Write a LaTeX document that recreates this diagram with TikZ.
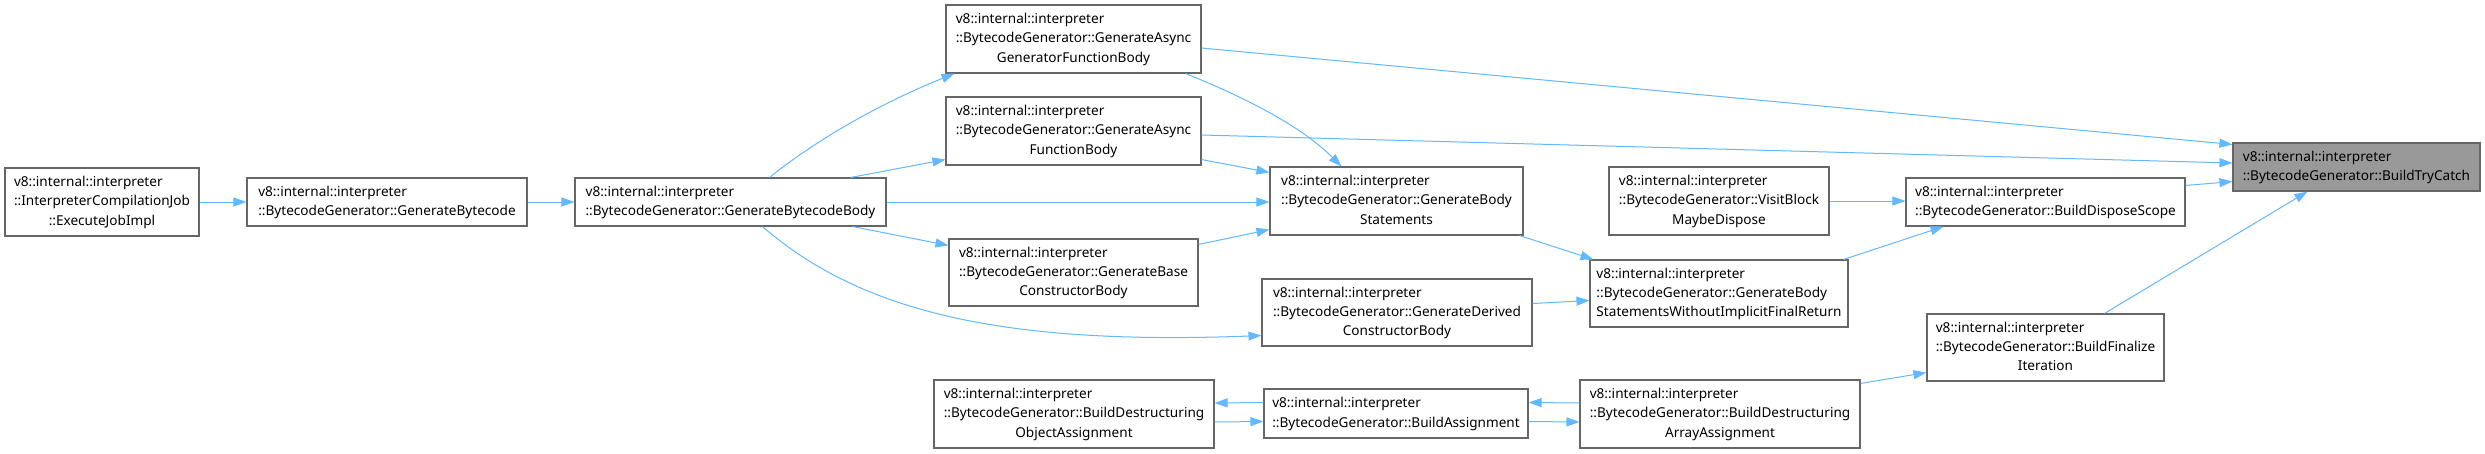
\documentclass[tikz,border=0pt]{standalone}
\usepackage{fontspec}
\setmainfont{Noto Sans}
\usetikzlibrary{arrows.meta,calc}
\definecolor{edgeblue}{HTML}{63B8FF}
\definecolor{boxgray}{HTML}{666666}
\definecolor{hlgray}{HTML}{999999}
\newcommand\ns{v8::internal::interpreter}
\newcommand\two[2]{\begin{tabular}{@{}l@{}}#1\\#2\end{tabular}}
\newcommand\three[3]{\begin{tabular}{@{}l@{}}#1\\#2\\\multicolumn{1}{@{}c@{}}{#3}\end{tabular}}
\begin{document}
\begin{tikzpicture}[x=1pt,y=-1pt,
  box/.style={draw=boxgray, fill=white, line width=1.1pt, inner sep=0pt,
    font=\fontsize{13.6pt}{19.3pt}\selectfont},
  hl/.style={box, fill=hlgray},
  edge/.style={draw=edgeblue, line width=1pt, -{Triangle[length=13pt,width=9pt]}}]
\fill[white] (0,0) rectangle (2485,453);
\useasboundingbox (0,0) rectangle (2485,453);

\node[box, minimum width=194pt, minimum height=68pt] (EJ) at (102,202)
  {\three{\ns}{::InterpreterCompilationJob}{::ExecuteJobImpl}};
\node[box, minimum width=280pt, minimum height=48pt] (GB) at (387,202)
  {\two{\ns}{::BytecodeGenerator::GenerateBytecode}};
\node[box, minimum width=311pt, minimum height=48pt] (GBB) at (730.5,202)
  {\two{\ns}{::BytecodeGenerator::GenerateBytecodeBody}};
\node[box, minimum width=255pt, minimum height=68pt] (AG) at (1073.5,39)
  {\three{\ns}{::BytecodeGenerator::GenerateAsync}{GeneratorFunctionBody}};
\node[box, minimum width=255pt, minimum height=68pt] (AF) at (1073.5,131)
  {\three{\ns}{::BytecodeGenerator::GenerateAsync}{FunctionBody}};
\node[box, minimum width=249pt, minimum height=67pt] (GBase) at (1073.5,272.5)
  {\three{\ns}{::BytecodeGenerator::GenerateBase}{ConstructorBody}};
\node[box, minimum width=253pt, minimum height=68pt] (GBS) at (1396.5,201)
  {\three{\ns}{::BytecodeGenerator::GenerateBody}{Statements}};
\node[box, minimum width=270pt, minimum height=67pt] (Der) at (1397,312.5)
  {\three{\ns}{::BytecodeGenerator::GenerateDerived}{ConstructorBody}};
\node[box, minimum width=220pt, minimum height=68pt] (VB) at (1719,201)
  {\three{\ns}{::BytecodeGenerator::VisitBlock}{MaybeDispose}};
\node[box, minimum width=258pt, minimum height=67pt] (GBSW) at (1719,293.5)
  {\three{\ns}{::BytecodeGenerator::GenerateBody}{StatementsWithoutImplicitFinalReturn}};
\node[box, minimum width=279pt, minimum height=48pt] (BDS) at (2045.5,202)
  {\two{\ns}{::BytecodeGenerator::BuildDisposeScope}};
\node[hl, minimum width=247pt, minimum height=48pt] (BTC) at (2356.5,167)
  {\two{\ns}{::BytecodeGenerator::BuildTryCatch}};
\node[box, minimum width=237pt, minimum height=67pt] (BFI) at (2045.5,347.5)
  {\three{\ns}{::BytecodeGenerator::BuildFinalize}{Iteration}};
\node[box, minimum width=280pt, minimum height=68pt] (BDA) at (1720,414)
  {\three{\ns}{::BytecodeGenerator::BuildDestructuring}{ArrayAssignment}};
\node[box, minimum width=264pt, minimum height=49pt] (BA) at (1396,413.5)
  {\two{\ns}{::BytecodeGenerator::BuildAssignment}};
\node[box, minimum width=280pt, minimum height=68pt] (BDO) at (1074,414)
  {\three{\ns}{::BytecodeGenerator::BuildDestructuring}{ObjectAssignment}};

\draw[edge] (EJ.east) -- (GB.west);
\draw[edge] (GB.east) -- (GBB.west);
\draw[edge] ($(GBB.north west)+(195,0)$) .. controls +(60,-48) and +(-55,22) .. ($(AG.south west)+(9,0)$);
\draw[edge] ($(GBB.north east)+(-36,0)$) -- ($(AF.south west)+(0,-6)$);
\draw[edge] (GBB.east) -- (GBB.east -| GBS.west);
\draw[edge] ($(GBB.south east)+(-34,0)$) -- ($(GBase.north west)+(0,7)$);
\draw[edge] ($(GBB.south west)+(188,0)$) .. controls +(97,84) and +(-262,10) .. ($(Der.south west)+(0,-11)$);
\draw[edge] ($(AG.south east)+(-16,0)$) .. controls +(55,22) and +(-42,-42) .. ($(GBS.north west)+(72,0)$);
\draw[edge] ($(AF.south east)+(0,-6)$) -- ($(GBS.north west)+(0,6)$);
\draw[edge] ($(GBase.north east)+(0,6)$) -- ($(GBS.south west)+(0,-6)$);
\draw[edge] ($(AG.east)+(0,9)$) -- ($(BTC.north west)+(0,2)$);
\draw[edge] ($(AF.east)+(0,4)$) -- ($(BTC.west)+(0,-4)$);
\draw[edge] ($(GBS.south east)+(-4,0)$) -- ($(GBSW.north west)+(4,0)$);
\draw[edge] ($(Der.east)+(0,-9)$) -- ($(GBSW.west)+(0,7)$);
\draw[edge] (VB.east) -- (VB.east -| BDS.west);
\draw[edge] ($(GBSW.north east)+(-5,0)$) -- ($(BDS.south west)+(38,0)$);
\draw[edge] ($(BDS.north east)+(0,8)$) -- ($(BTC.south west)+(0,-10)$);
\draw[edge] ($(BFI.north west)+(178,0)$) -- ($(BTC.south west)+(75,0)$);
\draw[edge] ($(BDA.north east)+(0,4)$) -- ($(BFI.south west)+(0,-9)$);
\draw[edge] ($(BDA.west)+(0,-11)$) -- ($(BA.east)+(0,-11)$);
\draw[edge] ($(BA.east)+(0,8)$) -- ($(BDA.west)+(0,8)$);
\draw[edge] ($(BA.west)+(0,-11)$) -- ($(BDO.east)+(0,-11)$);
\draw[edge] ($(BDO.east)+(0,8)$) -- ($(BA.west)+(0,8)$);
\end{tikzpicture}
\end{document}
